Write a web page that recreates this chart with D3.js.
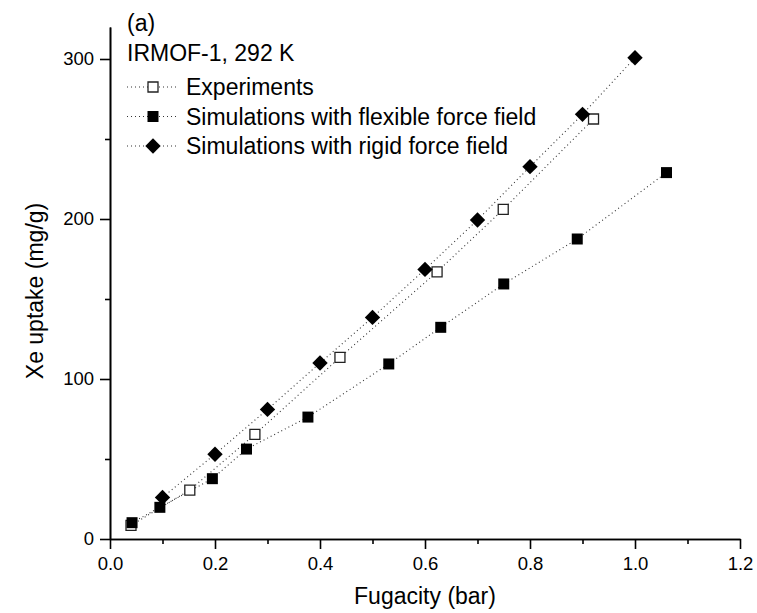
<!DOCTYPE html>
<html>
<head>
<meta charset="utf-8">
<script src="https://cdn.jsdelivr.net/npm/d3@7"></script>
<style>
  body { margin: 0; background: #fff; }
  text { font-family: "Liberation Sans", Arial, sans-serif; fill: #000; }
</style>
</head>
<body>
<svg id="chart" width="757" height="613"></svg>
<script>
// data
let expFug = [0.04, 0.152, 0.276, 0.438, 0.623, 0.749, 0.921];
let expUptake = [8.5, 30.6, 65.4, 113.5, 167, 206, 262.5];

let flexFug = [0.042, 0.095, 0.195, 0.26, 0.377, 0.531, 0.63, 0.75, 0.89, 1.06];
let flexUptake = [10.2, 19.8, 37.7, 56.2, 76.2, 109.4, 132.3, 159.4, 187.5, 229];

let rigidFug = [0.1, 0.2, 0.3, 0.4, 0.5, 0.6, 0.7, 0.8, 0.9, 1.0];
let rigidUptake = [26, 53, 81, 110, 138.5, 168.5, 199.4, 232.7, 265.4, 300.8];

let xTicks = [0.0, 0.2, 0.4, 0.6, 0.8, 1.0, 1.2];
let yTicks = [0, 100, 200, 300];
let legendLabels = ["Experiments", "Simulations with flexible force field", "Simulations with rigid force field"];

let margins = { top: 27, right: 17, bottom: 74, left: 110 };
let width = 757 - margins.left - margins.right;
let height = 613 - margins.top - margins.bottom;

let xScale = d3.scaleLinear().domain([0, 1.2]).range([0, width]);
let yScale = d3.scaleLinear().domain([0, 320]).range([height, 0]);

let svg = d3.select("#chart");
let graph = svg.append("g")
  .attr("transform", "translate(" + margins.left + "," + margins.top + ")");

let zip = (xs, ys) => xs.map((x, i) => ({ x: x, y: ys[i] }));
let series = [
  { name: legendLabels[0], data: zip(expFug, expUptake), shape: "open" },
  { name: legendLabels[1], data: zip(flexFug, flexUptake), shape: "square" },
  { name: legendLabels[2], data: zip(rigidFug, rigidUptake), shape: "diamond" }
];

let line = d3.line()
  .x(function(d) { return xScale(d.x); })
  .y(function(d) { return yScale(d.y); });

function drawMarker(sel, shape) {
  if (shape === "diamond") {
    sel.append("path")
      .attr("d", d3.symbol(d3.symbolSquare, 118)())
      .attr("transform", "rotate(45)")
      .style("fill", "#000");
  } else if (shape === "square") {
    sel.append("path")
      .attr("d", d3.symbol(d3.symbolSquare, 121)())
      .style("fill", "#000");
  } else {
    sel.append("path")
      .attr("d", d3.symbol(d3.symbolSquare, 100)())
      .style("fill", "#fff")
      .style("stroke", "#222")
      .style("stroke-width", 1.3);
  }
}

// dotted connecting lines
series.forEach(function(s) {
  graph.append("path")
    .attr("d", line(s.data))
    .style("fill", "none")
    .style("stroke", "#333")
    .style("stroke-width", 1.1)
    .style("stroke-dasharray", "1,3");
});

// markers (experiments first so the filled ones sit on top)
series.forEach(function(s) {
  let pts = graph.append("g").selectAll("g")
    .data(s.data)
    .enter().append("g")
    .attr("transform", function(d) { return "translate(" + xScale(d.x) + "," + yScale(d.y) + ")"; });
  drawMarker(pts, s.shape);
});

// axes
let xAxis = d3.axisBottom(xScale).tickValues(xTicks).tickFormat(d3.format(".1f")).tickSize(10).tickSizeOuter(0);
let xMinor = d3.axisBottom(xScale).tickValues(d3.range(0.1, 1.2, 0.2)).tickFormat("").tickSize(5).tickSizeOuter(0);
let yAxis = d3.axisLeft(yScale).tickValues(yTicks).tickSize(10).tickSizeOuter(0);
let yMinor = d3.axisLeft(yScale).tickValues([50, 150, 250]).tickFormat("").tickSize(5).tickSizeOuter(0);

graph.append("g").attr("class", "x axis").attr("transform", "translate(0," + height + ")").call(xMinor);
graph.append("g").attr("class", "x axis").attr("transform", "translate(0," + height + ")").call(xAxis);
graph.append("g").attr("class", "y axis").call(yMinor);
graph.append("g").attr("class", "y axis").call(yAxis);

graph.selectAll(".axis path, .axis line")
  .style("stroke", "#000")
  .style("stroke-width", 1.6);
graph.selectAll(".axis text")
  .style("font-family", "'Liberation Sans', Arial, sans-serif")
  .style("font-size", "18.5px")
  .style("fill", "#000");
graph.selectAll(".x.axis text").attr("dy", "0.95em");
graph.selectAll(".y.axis text").attr("x", -16);

// axis titles
svg.append("text")
  .attr("x", margins.left + xScale(0.6))
  .attr("y", 604)
  .attr("text-anchor", "middle")
  .style("font-size", "23px")
  .text("Fugacity (bar)");

svg.append("text")
  .attr("transform", "translate(43," + (margins.top + yScale(155)) + ") rotate(-90)")
  .attr("text-anchor", "middle")
  .style("font-size", "23px")
  .text("Xe uptake (mg/g)");

// annotations
svg.append("text").attr("x", 127).attr("y", 31).style("font-size", "23px").text("(a)");
svg.append("text").attr("x", 127).attr("y", 61).style("font-size", "23px").text("IRMOF-1, 292 K");

// legend
let legend = svg.append("g").attr("transform", "translate(127,87)");
series.forEach(function(s, i) {
  let row = legend.append("g").attr("transform", "translate(0," + (i * 29.5) + ")");
  row.append("line")
    .attr("x1", 0).attr("x2", 52).attr("y1", 0).attr("y2", 0)
    .style("stroke", "#333")
    .style("stroke-width", 1.1)
    .style("stroke-dasharray", "1,3");
  let m = row.append("g").attr("transform", "translate(26,0)");
  drawMarker(m, s.shape);
  row.append("text")
    .attr("x", 59)
    .attr("y", 0)
    .attr("dy", "0.35em")
    .style("font-size", "23px")
    .text(s.name);
});
</script>
</body>
</html>
